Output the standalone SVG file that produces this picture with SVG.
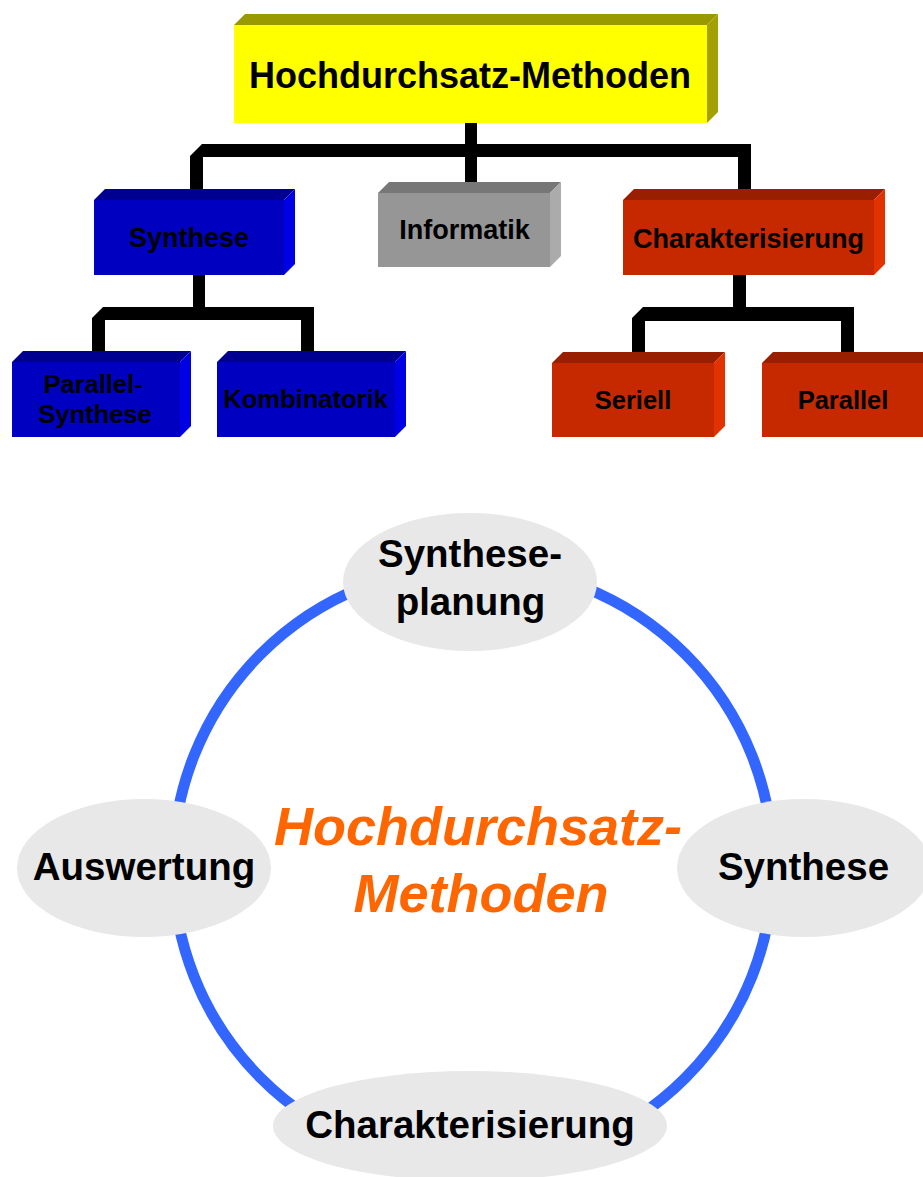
<svg xmlns="http://www.w3.org/2000/svg" width="923" height="1177" viewBox="0 0 923 1177">
<style>
text{font-family:"Liberation Sans",Arial,sans-serif;font-weight:bold;fill:#000;text-anchor:middle}
.yf{fill:#FFFF00}.yt{fill:#999900}.ys{fill:#A3A100}
.bf{fill:#0000C0}.bt{fill:#000090}.bs{fill:#0000E4}
.gf{fill:#969696}.gt{fill:#777777}.gs{fill:#ABABAB}
.rf{fill:#C62800}.rt{fill:#982000}.rs{fill:#E23200}
.conn{fill:#000}
.ell{fill:#E8E8E8}
.lbl{font-size:27px}
.sm{font-size:25.5px}
.big{font-size:38.5px}
.center{font-size:54px;font-style:italic;fill:#FF6600}
</style>
<rect width="923" height="1177" fill="#fff"/>
<g id="connectors">
<rect class="conn" x="465" y="123" width="12" height="34"/>
<polygon class="conn" points="190,156 202,144 751,144 751,189 738,200 738,157 203,157 203,189 190,200"/>
<polygon class="conn" points="465,156 477,156 477,182 465,193"/>
<rect class="conn" x="193" y="274" width="12" height="34"/>
<polygon class="conn" points="92,318 103,307 314,307 314,351 301,362 301,320 105,320 105,351 92,362"/>
<rect class="conn" x="733" y="274" width="13" height="34"/>
<polygon class="conn" points="632,318 643,307 854,307 854,352 841,363 841,321 645,321 645,352 632,363"/>
</g>
<g id="node-root">
<polygon class="yt" points="234,25 245,14 718,14 707,25"/>
<polygon class="ys" points="707,25 718,14 718,112 707,123"/>
<rect class="yf" x="234" y="25" width="473" height="98"/>
<text x="470" y="88" style="font-size:36px">Hochdurchsatz-Methoden</text>
</g>
<g id="node-synthese">
<polygon class="bt" points="94,200 105,189 295,189 284,200"/>
<polygon class="bs" points="284,200 295,189 295,264 284,275"/>
<rect class="bf" x="94" y="200" width="190" height="75"/>
<text class="lbl" x="189" y="247">Synthese</text>
</g>
<g id="node-informatik">
<polygon class="gt" points="378,193 389,182 561,182 550,193"/>
<polygon class="gs" points="550,193 561,182 561,256 550,267"/>
<rect class="gf" x="378" y="193" width="172" height="74"/>
<text class="lbl" x="464.5" y="239">Informatik</text>
</g>
<g id="node-charakterisierung">
<polygon class="rt" points="623,200 634,189 885,189 874,200"/>
<polygon class="rs" points="874,200 885,189 885,264 874,275"/>
<rect class="rf" x="623" y="200" width="251" height="75"/>
<text class="lbl" x="748.5" y="248">Charakterisierung</text>
</g>
<g id="node-parallel-synthese">
<polygon class="bt" points="12,362 23,351 191,351 180,362"/>
<polygon class="bs" points="180,362 191,351 191,426 180,437"/>
<rect class="bf" x="12" y="362" width="168" height="75"/>
<text class="sm" x="93" y="393">Parallel-</text>
<text class="sm" x="95" y="423">Synthese</text>
</g>
<g id="node-kombinatorik">
<polygon class="bt" points="217,362 228,351 406,351 395,362"/>
<polygon class="bs" points="395,362 406,351 406,426 395,437"/>
<rect class="bf" x="217" y="362" width="178" height="75"/>
<text class="sm" x="305.5" y="408">Kombinatorik</text>
</g>
<g id="node-seriell">
<polygon class="rt" points="552,363 563,352 725,352 714,363"/>
<polygon class="rs" points="714,363 725,352 725,426 714,437"/>
<rect class="rf" x="552" y="363" width="162" height="74"/>
<text class="sm" x="633" y="409">Seriell</text>
</g>
<g id="node-parallel">
<polygon class="rt" points="762,363 773,352 935,352 924,363"/>
<rect class="rf" x="762" y="363" width="162" height="74"/>
<text class="sm" x="843" y="409">Parallel</text>
</g>
<g id="cycle-ring">
<circle cx="473" cy="866" r="300" fill="none" stroke="#3366FF" stroke-width="11"/>
</g>
<g id="node-syntheseplanung">
<ellipse class="ell" cx="470" cy="582" rx="127" ry="69"/>
<text class="big" x="470" y="567">Synthese-</text>
<text class="big" x="470.5" y="615">planung</text>
</g>
<g id="node-auswertung">
<ellipse class="ell" cx="144" cy="868" rx="127" ry="69"/>
<text class="big" x="144" y="880">Auswertung</text>
</g>
<g id="node-synthese-cycle">
<ellipse class="ell" cx="804" cy="868" rx="127" ry="69"/>
<text class="big" x="803.5" y="880">Synthese</text>
</g>
<g id="node-charakterisierung-cycle">
<ellipse class="ell" cx="470" cy="1126" rx="197" ry="55"/>
<text class="big" x="470" y="1138">Charakterisierung</text>
</g>
<g id="center-label">
<text class="center" x="478" y="845">Hochdurchsatz-</text>
<text class="center" x="481" y="912">Methoden</text>
</g>
</svg>
